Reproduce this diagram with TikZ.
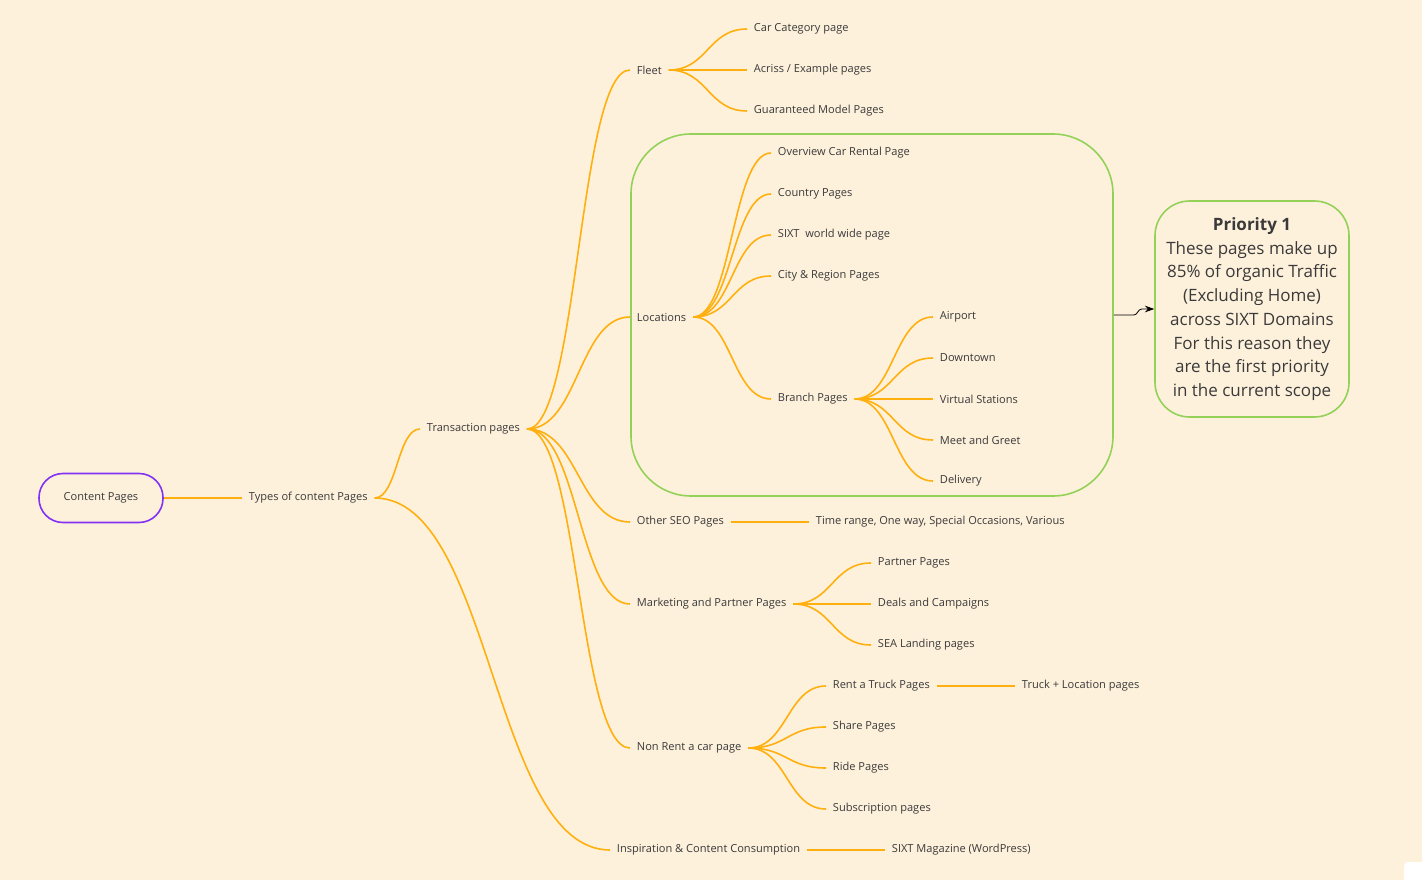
\documentclass[tikz,border=0pt]{standalone}
\usepackage{fontspec}
\setmainfont{Open Sans}
\usetikzlibrary{positioning,arrows.meta,fit,calc}
\definecolor{paper}{HTML}{FEF1DC}
\definecolor{branch}{HTML}{FFB00F}
\definecolor{leaf}{HTML}{93D158}
\definecolor{rootline}{HTML}{8132F2}
\definecolor{ink}{HTML}{3A3A3A}
\tikzset{
  topic/.style={anchor=west, inner xsep=5pt, inner ysep=1pt, text=ink,
    font=\fontsize{8.3}{10}\selectfont},
  rootbox/.style={draw=rootline, line width=1.2pt, rounded corners=18pt,
    minimum width=93pt, minimum height=36.75pt, text=ink,
    font=\fontsize{8.3}{10}\selectfont},
  zone/.style={draw=leaf, line width=1.2pt, rounded corners=45pt, inner sep=0pt},
  note/.style={draw=leaf, line width=1.2pt, rounded corners=26pt, align=center,
    minimum width=145.5pt, minimum height=162pt, inner sep=2pt, text=ink,
    font=\fontsize{12.75}{17.8}\selectfont},
  twig/.style={draw=branch, line width=1.2pt}
}
\newcommand{\twig}[2]{\draw[twig] let \p1=(#1.east), \p2=(#2.west) in
  (\p1) .. controls (\x1/2+\x2/2,\y1) and (\x1/2+\x2/2,\y2) .. (\p2);}

\begin{document}
\begin{tikzpicture}[x=0.75pt,y=-0.75pt,>={Stealth[length=7pt,width=5pt]}]
    \fill[paper] (0,0) rectangle (1422,880);
    \useasboundingbox (0,0) rectangle (1422,880);
    \fill[white,rounded corners=3pt] (1404,862) rectangle (1440,900);

    \node[zone, fit={(631,134) (1113,496)}] (loczone) {};

    \node[rootbox] (root) at (101,498) {Content Pages};
    \node[topic] (types) at (242,498) {Types of content Pages};
    \node[topic] (trans) at (420,429) {Transaction pages};
    \node[topic] (insp) at (610,850) {Inspiration \& Content Consumption};

    \node[topic] (fleet) at (630,70) {Fleet};
    \node[topic] (loc) at (630,317) {Locations};
    \node[topic] (seo) at (630,522) {Other SEO Pages};
    \node[topic] (mkt) at (630,604) {Marketing and Partner Pages};
    \node[topic] (nonrent) at (630,748) {Non Rent a car page};

    \node[topic] (cat) at (747,29) {Car Category page};
    \node[topic] (acriss) at (747,70) {Acriss / Example pages};
    \node[topic] (model) at (747,111) {Guaranteed Model Pages};

    \node[topic] (overview) at (771,153) {Overview Car Rental Page};
    \node[topic] (country) at (771,194) {Country Pages};
    \node[topic] (world) at (771,235) {SIXT\ \ world wide page};
    \node[topic] (city) at (771,276) {City \& Region Pages};
    \node[topic] (branchp) at (771,399) {Branch Pages};

    \node[topic] (airport) at (933,317) {Airport};
    \node[topic] (downtown) at (933,358) {Downtown};
    \node[topic] (virtual) at (933,399) {Virtual Stations};
    \node[topic] (meet) at (933,440) {Meet and Greet};
    \node[topic] (delivery) at (933,481) {Delivery};

    \node[topic] (various) at (809,522) {Time range, One way, Special Occasions, Various};

    \node[topic] (partner) at (871,563) {Partner Pages};
    \node[topic] (deals) at (871,604) {Deals and Campaigns};
    \node[topic] (sea) at (871,645) {SEA Landing pages};

    \node[topic] (truck) at (826,686) {Rent a Truck Pages};
    \node[topic] (share) at (826,727) {Share Pages};
    \node[topic] (ride) at (826,768) {Ride Pages};
    \node[topic] (subs) at (826,809) {Subscription pages};
    \node[topic] (truckloc) at (1015,686) {Truck + Location pages};

    \node[topic] (magazine) at (885,850) {SIXT Magazine (WordPress)};

    \node[note] (prio) at (1252,309) {\textbf{Priority 1}\\These pages make up\\85\% of organic Traffic\\(Excluding Home)\\across SIXT Domains\\For this reason they\\are the first priority\\in the current scope};

    % branches
    \foreach \a/\b in {root/types, types/trans, types/insp,
      trans/fleet, trans/loc, trans/seo, trans/mkt, trans/nonrent,
      fleet/cat, fleet/acriss, fleet/model,
      loc/overview, loc/country, loc/world, loc/city, loc/branchp,
      branchp/airport, branchp/downtown, branchp/virtual, branchp/meet, branchp/delivery,
      seo/various, mkt/partner, mkt/deals, mkt/sea,
      nonrent/truck, nonrent/share, nonrent/ride, nonrent/subs,
      truck/truckloc, insp/magazine}
      \twig{\a}{\b};

    \draw[->,line width=0.6pt] (loczone.east) -- ++(20,0) to[out=0,in=180] ++(8,-6) -- (prio.west);
  \end{tikzpicture}
\end{document}
